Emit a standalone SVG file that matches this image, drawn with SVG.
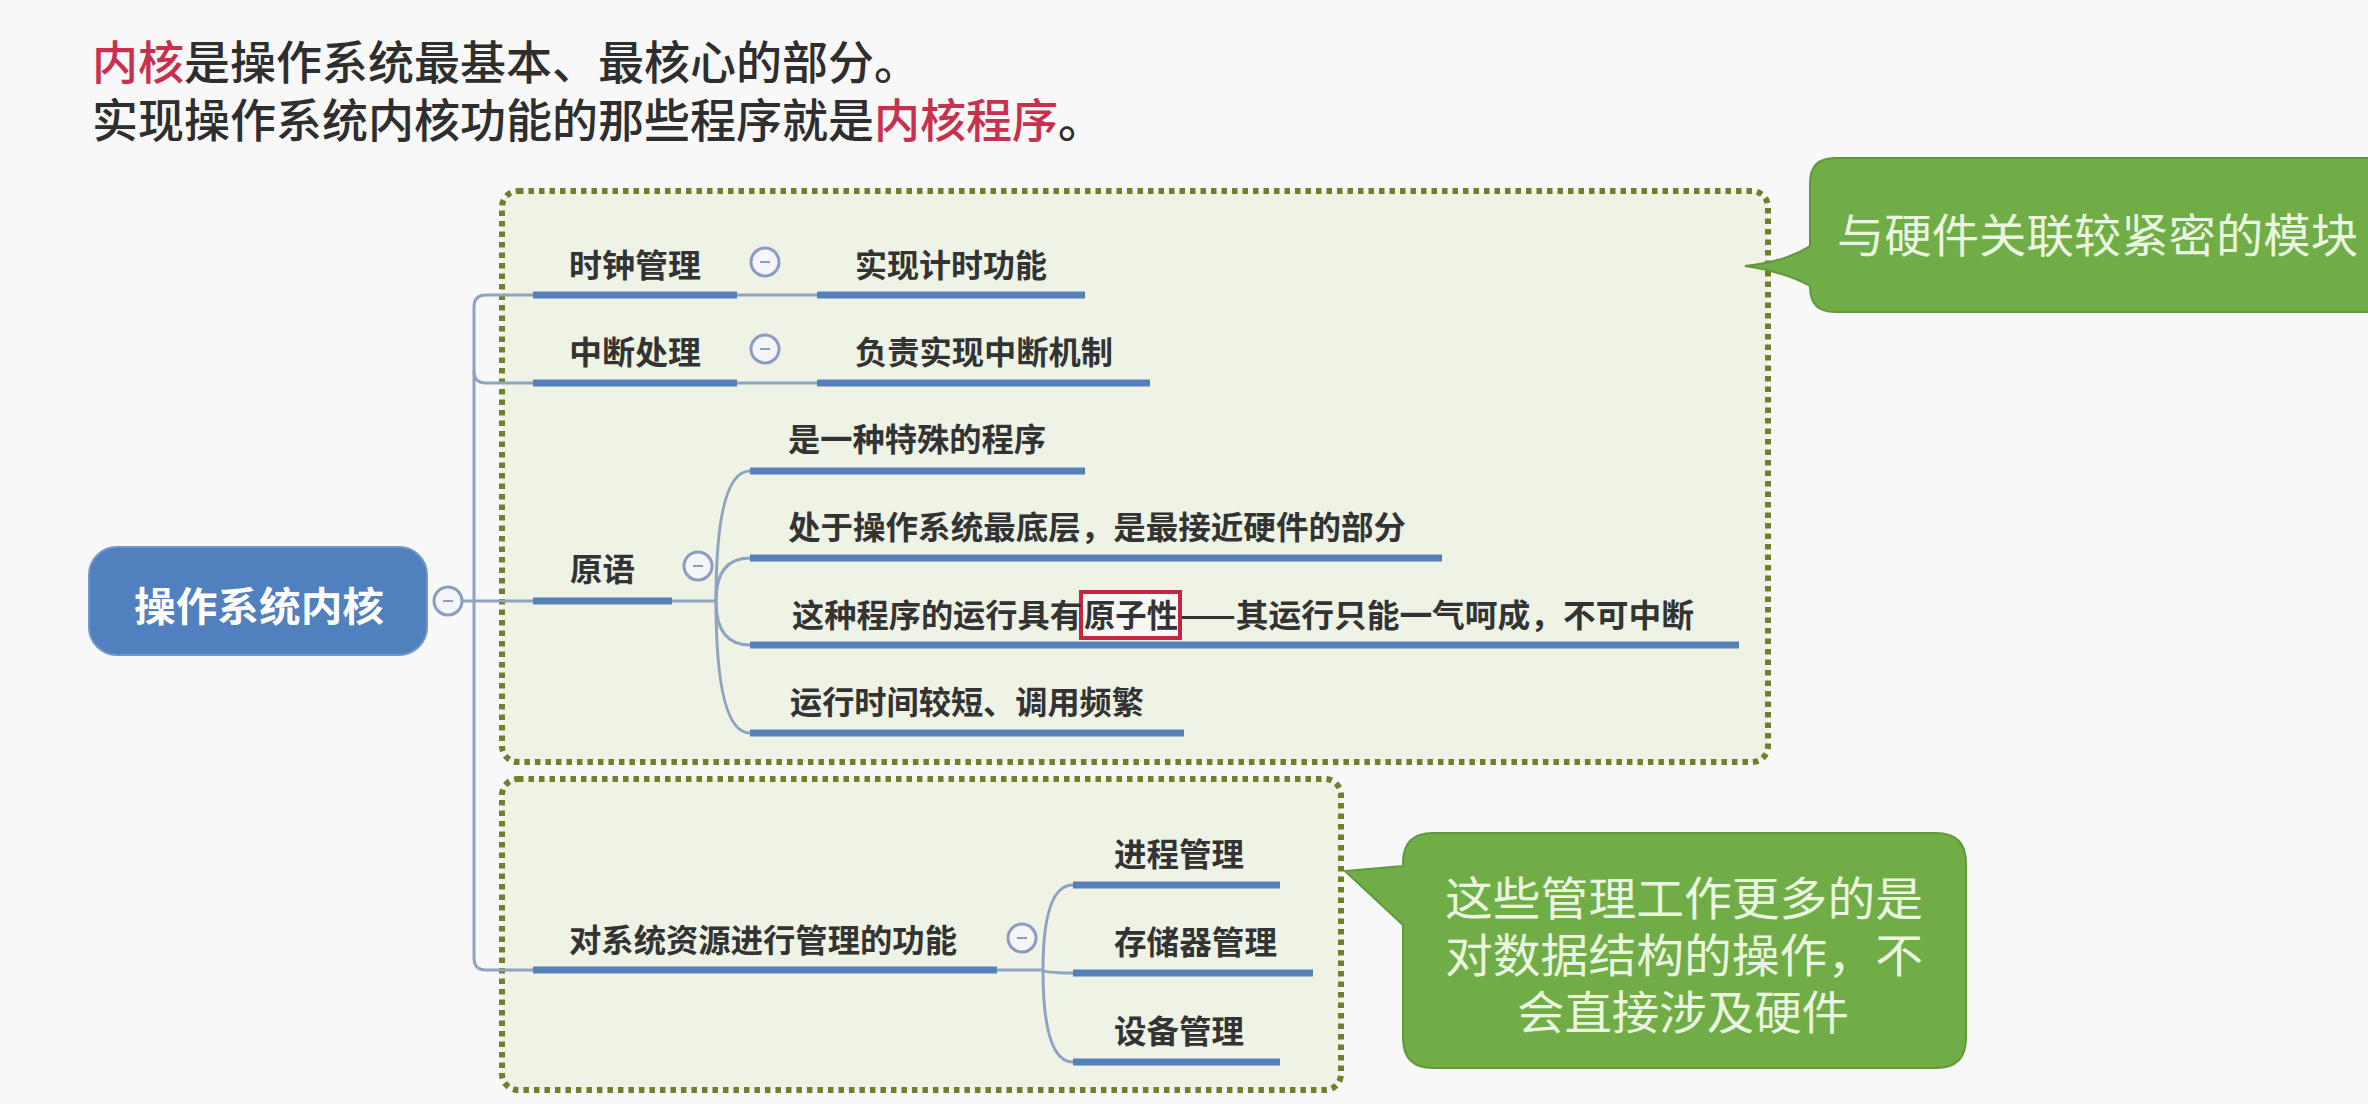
<svg xmlns="http://www.w3.org/2000/svg" width="2368" height="1104" viewBox="0 0 2368 1104">
<defs>
<style>
text{font-family:"Noto Sans CJK SC","Noto Sans CJK JP",sans-serif}
.title{font-size:46px;fill:#2e2e2e;font-weight:500}
.red{fill:#c8304f}
.lbl{font-size:32px;font-weight:bold;fill:#333333}
.bar{stroke:#5680b9;stroke-width:7;fill:none}
.con{stroke:#8ea3bf;stroke-width:3;fill:none}
.box{fill:#eef3e5;stroke:#6f7f2c;stroke-width:6;stroke-dasharray:5.5 5}
.call{fill:#70ad47;stroke:#5f9a3a;stroke-width:2}
.ctext{font-size:46px;fill:#eaf6e0}
.tog circle{fill:#f3f5f9;stroke:#8b9cc0;stroke-width:3}
.tog line{stroke:#8b9cc0;stroke-width:2}
</style>
</defs>
<rect x="0" y="0" width="2368" height="1104" fill="#f8f8f8"/>

<g id="title">
<text class="title" x="92" y="79"><tspan class="red">内核</tspan>是操作系统最基本、最核心的部分。</text>
<text class="title" x="92" y="137">实现操作系统内核功能的那些程序就是<tspan class="red">内核程序</tspan>。</text>
</g>

<g id="groups">
<rect id="box-hw" class="box" x="502" y="191" width="1266" height="571" rx="16"/>
<rect id="box-res" class="box" x="502" y="779" width="839" height="311" rx="16"/>
</g>

<g id="connectors">
<path class="con" d="M533 295 H486 Q474 295 474 307 V958 Q474 970 486 970 H533"/>
<path class="con" d="M474 371 Q474 383 486 383 H533"/>
<path class="con" d="M440 601 H533"/>
<path class="con" d="M737 295 H817"/>
<path class="con" d="M737 383 H817"/>
<path class="con" d="M672 601 H716"/>
<path class="con" d="M716 601 Q716 471 750 471"/>
<path class="con" d="M716 601 Q716 558 750 558"/>
<path class="con" d="M716 601 Q716 645 750 645"/>
<path class="con" d="M716 601 Q716 733 750 733"/>
<path class="con" d="M997 970 H1043"/>
<path class="con" d="M1043 970 Q1043 885 1073 885"/>
<path class="con" d="M1043 970 Q1043 973 1073 973"/>
<path class="con" d="M1043 970 Q1043 1062 1073 1062"/>
</g>

<g id="root">
<rect x="89" y="547" width="338" height="108" rx="28" fill="#5080bd" stroke="#6f97c9" stroke-width="2"/>
<text x="134" y="621" font-size="40" font-weight="bold" fill="#ffffff" textLength="250" lengthAdjust="spacingAndGlyphs">操作系统内核</text>
<g class="tog"><circle cx="448" cy="601" r="14"/><line x1="443" y1="601" x2="453" y2="601"/></g>
</g>

<g id="clock">
<text class="lbl" x="569" y="277" textLength="132" lengthAdjust="spacingAndGlyphs">时钟管理</text>
<line class="bar" x1="533" y1="295" x2="737" y2="295"/>
<g class="tog"><circle cx="765" cy="262" r="14"/><line x1="760" y1="262" x2="770" y2="262"/></g>
</g>
<g id="clock-1">
<text class="lbl" x="855" y="277" textLength="192" lengthAdjust="spacingAndGlyphs">实现计时功能</text>
<line class="bar" x1="817" y1="295" x2="1085" y2="295"/>
</g>

<g id="interrupt">
<text class="lbl" x="569" y="364" textLength="132" lengthAdjust="spacingAndGlyphs">中断处理</text>
<line class="bar" x1="533" y1="383" x2="737" y2="383"/>
<g class="tog"><circle cx="765" cy="349" r="14"/><line x1="760" y1="349" x2="770" y2="349"/></g>
</g>
<g id="interrupt-1">
<text class="lbl" x="855" y="364" textLength="258" lengthAdjust="spacingAndGlyphs">负责实现中断机制</text>
<line class="bar" x1="817" y1="383" x2="1150" y2="383"/>
</g>

<g id="primitive">
<text class="lbl" x="570" y="581" textLength="65" lengthAdjust="spacingAndGlyphs">原语</text>
<line class="bar" x1="533" y1="601" x2="672" y2="601"/>
<g class="tog"><circle cx="698" cy="566" r="14"/><line x1="693" y1="566" x2="703" y2="566"/></g>
</g>
<g id="primitive-1">
<text class="lbl" x="788" y="451" textLength="258" lengthAdjust="spacingAndGlyphs">是一种特殊的程序</text>
<line class="bar" x1="750" y1="471" x2="1085" y2="471"/>
</g>
<g id="primitive-2">
<text class="lbl" x="788" y="539" textLength="618" lengthAdjust="spacingAndGlyphs">处于操作系统最底层，是最接近硬件的部分</text>
<line class="bar" x1="750" y1="558" x2="1442" y2="558"/>
</g>
<g id="primitive-3">
<rect x="1081" y="592" width="99" height="46" fill="#f7f7f5" stroke="#c42540" stroke-width="4"/>
<text class="lbl" y="627"><tspan x="792" textLength="290" lengthAdjust="spacingAndGlyphs">这种程序的运行具有</tspan><tspan x="1084" textLength="94" lengthAdjust="spacingAndGlyphs">原子性</tspan><tspan x="1180" textLength="514" lengthAdjust="spacingAndGlyphs">——其运行只能一气呵成，不可中断</tspan></text>
<line class="bar" x1="750" y1="645" x2="1739" y2="645"/>
</g>
<g id="primitive-4">
<text class="lbl" x="790" y="714" textLength="354" lengthAdjust="spacingAndGlyphs">运行时间较短、调用频繁</text>
<line class="bar" x1="750" y1="733" x2="1184" y2="733"/>
</g>

<g id="resource">
<text class="lbl" x="569" y="952" textLength="388" lengthAdjust="spacingAndGlyphs">对系统资源进行管理的功能</text>
<line class="bar" x1="533" y1="970" x2="997" y2="970"/>
<g class="tog"><circle cx="1022" cy="938" r="14"/><line x1="1017" y1="938" x2="1027" y2="938"/></g>
</g>
<g id="resource-1">
<text class="lbl" x="1114" y="866" textLength="130" lengthAdjust="spacingAndGlyphs">进程管理</text>
<line class="bar" x1="1073" y1="885" x2="1280" y2="885"/>
</g>
<g id="resource-2">
<text class="lbl" x="1114" y="954" textLength="163" lengthAdjust="spacingAndGlyphs">存储器管理</text>
<line class="bar" x1="1073" y1="973" x2="1313" y2="973"/>
</g>
<g id="resource-3">
<text class="lbl" x="1114" y="1043" textLength="130" lengthAdjust="spacingAndGlyphs">设备管理</text>
<line class="bar" x1="1073" y1="1062" x2="1280" y2="1062"/>
</g>

<g id="callout-hw">
<path class="call" d="M1835 158 H2400 V312 H1835 Q1810 312 1810 287 L1810 286 Q1785 272 1745 266 Q1785 262 1810 246 V183 Q1810 158 1835 158 Z"/>
<text class="ctext" x="1837" y="252" textLength="521" lengthAdjust="spacingAndGlyphs">与硬件关联较紧密的模块</text>
</g>

<g id="callout-res">
<path class="call" d="M1433 833 H1936 Q1966 833 1966 863 V1038 Q1966 1068 1936 1068 H1433 Q1403 1068 1403 1038 V925 L1345 871 L1403 866 V863 Q1403 833 1433 833 Z"/>
<text class="ctext" x="1445" y="915" textLength="478" lengthAdjust="spacingAndGlyphs">这些管理工作更多的是</text>
<text class="ctext" x="1445" y="972" textLength="478" lengthAdjust="spacingAndGlyphs">对数据结构的操作，不</text>
<text class="ctext" x="1517" y="1029" textLength="332" lengthAdjust="spacingAndGlyphs">会直接涉及硬件</text>
</g>
</svg>
